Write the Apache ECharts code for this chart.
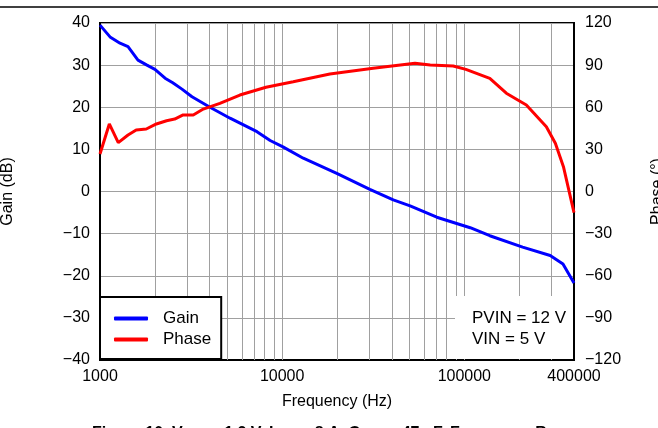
<!DOCTYPE html>
<html>
<head>
<meta charset="utf-8">
<script src="https://cdn.jsdelivr.net/npm/echarts@6/dist/echarts.min.js"></script>
<style>html,body{margin:0;padding:0;background:#fff;}#c{width:658px;height:428px;}</style>
</head>
<body>
<div id="c"></div>
<script>
// Gain curve (Hz, dB)
var gainFreq = [1000, 1135, 1288, 1425, 1616, 1810, 2003, 2276, 2508, 2818, 3199, 4015, 5174, 7273, 8590, 10100, 13060, 19940, 30300, 40730, 50400, 70600, 107700, 138000, 209000, 296000, 348000, 400000];
var gainDb   = [39.5, 36.7, 35.2, 34.4, 31.2, 30.0, 29.0, 26.9, 25.8, 24.3, 22.5, 20.0, 17.4, 14.2, 12.1, 10.6, 7.9, 4.3, 0.5, -2.0, -3.4, -6.1, -8.6, -10.5, -13.2, -15.2, -17.2, -21.7];
// Phase curve (Hz, degrees)
var phaseFreq = [1000, 1125, 1260, 1425, 1580, 1795, 2040, 2320, 2570, 2860, 3250, 3690, 4550, 5860, 8150, 11500, 18280, 31600, 53600, 65000, 86900, 102000, 138000, 170000, 219000, 282000, 316000, 350000, 400000];
var phaseDeg  = [26.7, 48.1, 34.8, 40.2, 43.8, 44.5, 48.1, 50.4, 51.6, 54.5, 54.5, 58.7, 62.8, 68.7, 74.2, 78.2, 83.7, 87.7, 91.3, 90.1, 89.4, 87.0, 80.6, 70.0, 61.6, 46.1, 34.3, 17.7, -15.0];
// vertical log grid lines
var xGridValues = [2000,3000,4000,5000,6000,7000,8000,9000,10000,20000,30000,40000,50000,60000,70000,80000,90000,100000,200000,300000];
var seriesNames = ['Gain', 'Phase'];
var noteLines = ['PVIN = 12 V', 'VIN = 5 V'];

function pairs(xs, ys){ return xs.map(function(x,i){ return [x, ys[i]]; }); }
function minus(v){ return String(v).replace('-', '\u2212'); }

var FONT = 'Liberation Sans, Arial, sans-serif';
var chart = echarts.init(document.getElementById('c'));
chart.setOption({
  animation: false,
  backgroundColor: '#fff',
  textStyle: { fontFamily: FONT },
  title: {
    left: 87, top: 419,
    text: '{b|Figure 10. V}{s|OUT}{b| = 1.2 V, I}{s|OUT}{b| = 8 A, C}{s|OUT}{b| = 47 µF, Frequency Response}',
    textStyle: {
      rich: {
        b: { fontFamily: FONT, fontSize: 16, fontWeight: 'bold', color: '#000' },
        s: { fontFamily: FONT, fontSize: 11, fontWeight: 'bold', color: '#000', verticalAlign: 'bottom', padding: [8,0,0,0] }
      }
    }
  },
  grid: { left: 100, top: 23, right: 84, bottom: 68, show: true, borderColor: '#000', borderWidth: 2, backgroundColor: 'transparent', containLabel: false, outerBoundsMode: 'none' },
  legend: {
    data: seriesNames,
    z: 50,
    orient: 'vertical',
    left: 100, top: 297,
    padding: [13, 10, 11, 14],
    itemGap: 4,
    itemWidth: 34, itemHeight: 4,
    icon: 'roundRect',
    backgroundColor: '#fff',
    borderColor: '#000', borderWidth: 2, borderRadius: 0,
    textStyle: { fontFamily: FONT, fontSize: 17, color: '#000', lineHeight: 17, padding: [0,0,0,10] }
  },
  xAxis: {
    type: 'log', logBase: 10, min: 1000, max: 400000,
    name: 'Frequency (Hz)', nameLocation: 'middle', nameGap: 34,
    nameTextStyle: { fontFamily: FONT, fontSize: 16, color: '#000' },
    axisLine: { show: true, onZero: false, lineStyle: { color: '#000', width: 2 } },
    axisTick: { show: false },
    splitLine: { show: false },
    axisLabel: { fontFamily: FONT, fontSize: 16, color: '#000', margin: 9, showMaxLabel: true, showMinLabel: true,
      formatter: function(v){ return String(Math.round(v)); } }
  },
  yAxis: [{
    type: 'value', min: -40, max: 40, interval: 10, position: 'left',
    name: 'Gain (dB)', nameLocation: 'middle', nameGap: 84, nameRotate: 90,
    nameTextStyle: { fontFamily: FONT, fontSize: 16, color: '#000' },
    axisLine: { show: true, onZero: false, lineStyle: { color: '#000', width: 2 } },
    axisTick: { show: false },
    splitLine: { show: true, lineStyle: { color: '#a0a0a0', width: 1 } },
    axisLabel: { fontFamily: FONT, fontSize: 16, color: '#000', margin: 10, formatter: minus }
  }, {
    type: 'value', min: -120, max: 120, interval: 30, position: 'right',
    name: 'Phase (°)', nameLocation: 'middle', nameGap: 76, nameRotate: 90,
    nameTextStyle: { fontFamily: FONT, fontSize: 16, color: '#000' },
    axisLine: { show: true, onZero: false, lineStyle: { color: '#000', width: 2 } },
    axisTick: { show: false },
    splitLine: { show: false },
    axisLabel: { fontFamily: FONT, fontSize: 16, color: '#000', margin: 11, formatter: minus }
  }],
  series: [{
    type: 'line', name: 'gridlines', data: [], z: 1, silent: true,
    markLine: {
      silent: true, symbol: 'none', label: { show: false }, z: 1,
      lineStyle: { color: '#a0a0a0', width: 1, type: 'solid' },
      emphasis: { disabled: true },
      data: xGridValues.map(function(v){ return { xAxis: v }; })
    }
  }, {
    type: 'line', name: seriesNames[0], data: pairs(gainFreq, gainDb), yAxisIndex: 0, z: 3,
    showSymbol: false, color: '#0000ff', lineStyle: { color: '#0000ff', width: 3 }
  }, {
    type: 'line', name: seriesNames[1], data: pairs(phaseFreq, phaseDeg), yAxisIndex: 1, z: 3,
    showSymbol: false, color: '#ff0000', lineStyle: { color: '#ff0000', width: 3 }
  }],
  graphic: [{
    type: 'line', z: 100, shape: { x1: 0, y1: 7, x2: 658, y2: 7 }, style: { stroke: '#000', lineWidth: 1.5 }
  }, {
    type: 'rect', z: 100, shape: { x: 455, y: 296, width: 118, height: 63 }, style: { fill: '#fff' }
  }, {
    type: 'text', z: 101, x: 472, y: 308,
    style: { text: noteLines.join('\n'), font: '17px ' + FONT, lineHeight: 21, fill: '#000' }
  }]
});
</script>
</body>
</html>
